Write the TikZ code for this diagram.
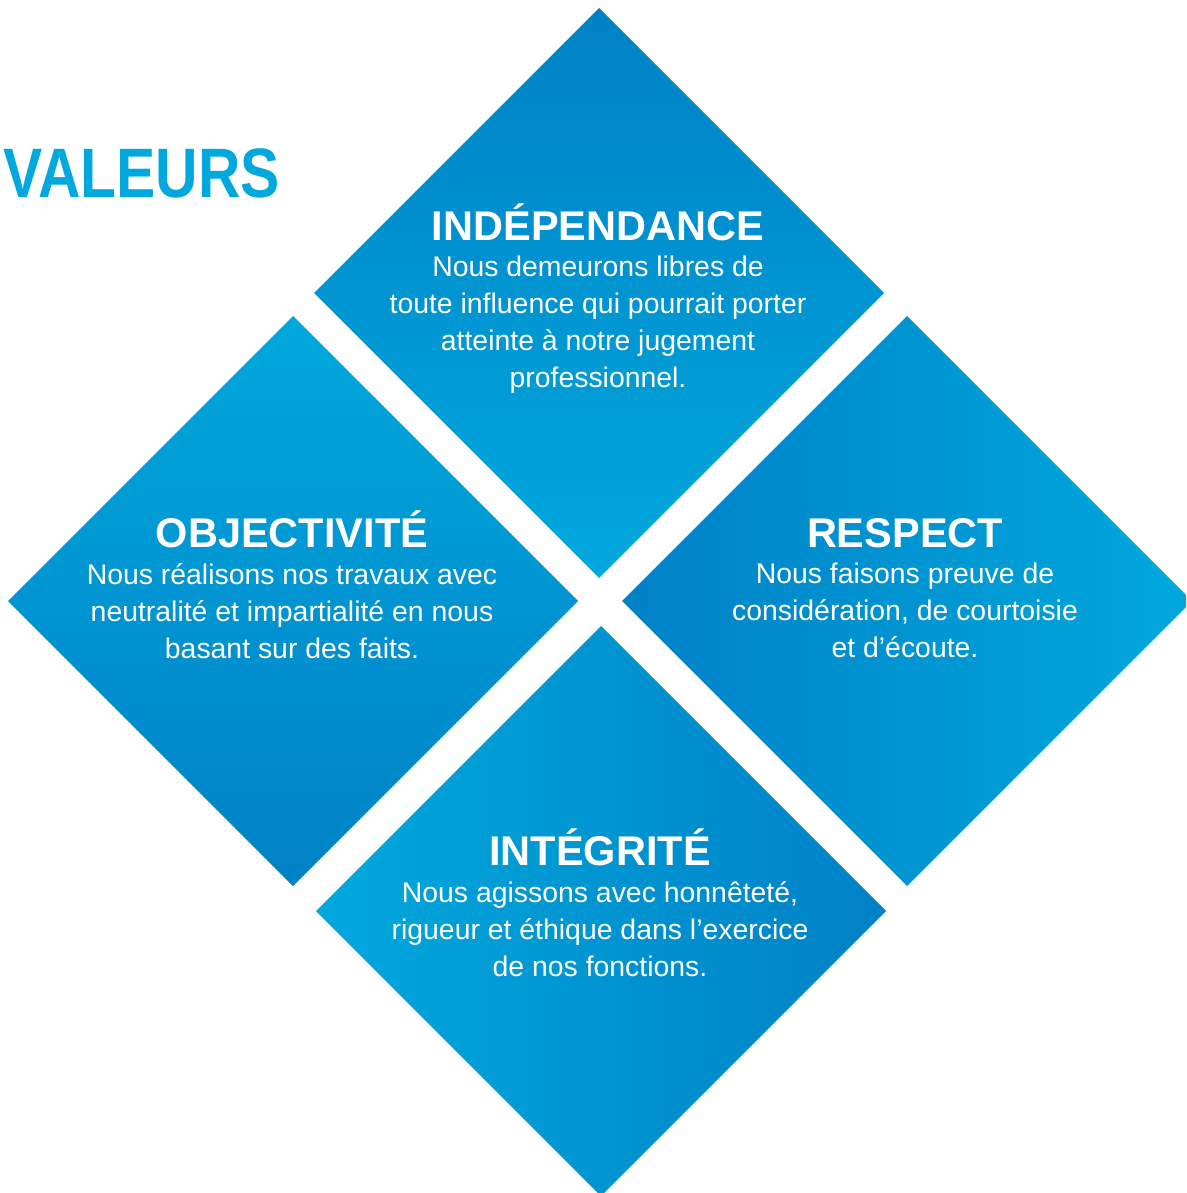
\documentclass[tikz,border=0pt]{standalone}
\usepackage{fontspec}
\setmainfont{Liberation Sans}
\newfontfamily\narrowfont{Liberation Sans}[FakeStretch=0.84]
\usetikzlibrary{positioning}
\definecolor{diamdark}{RGB}{0,129,198}
\definecolor{diamlight}{RGB}{0,168,221}
\begin{document}
\begin{tikzpicture}[x=1pt,y=-1pt,
    head/.style={text=white,inner sep=0pt,anchor=base,text height=29pt,text depth=0pt,
      font=\bfseries\fontsize{41.5}{41.5}\selectfont},
    body/.style={text=white,inner sep=0pt,align=center,
      font=\fontsize{28.4}{37}\selectfont}]
    \useasboundingbox (0,0) rectangle (1186,1193);
    \scope
    \clip (0,0) rectangle (1186,1193);
    \shade[top color=diamdark,bottom color=diamlight]
      (599,8) -- (884,293) -- (599,578) -- (314,293) -- cycle;
    \shade[top color=diamlight,bottom color=diamdark]
      (293,316) -- (578,601) -- (293,886) -- (8,601) -- cycle;
    \shade[left color=diamdark,right color=diamlight]
      (907,316) -- (1192,601) -- (907,886) -- (622,601) -- cycle;
    \shade[left color=diamlight,right color=diamdark]
      (601,626) -- (886,911) -- (601,1196) -- (316,911) -- cycle;
    \endscope
    \node[anchor=base west,inner sep=0pt,text=diamlight,
      font=\narrowfont\bfseries\fontsize{70}{70}\selectfont] (valeurs) at (3,197) {VALEURS};
    \node[head] (indep) at (598,240) {INDÉPENDANCE};
    \node[body,below=16pt of indep] (indeptext) {Nous demeurons libres de\\
      toute influence qui pourrait porter\\atteinte à notre jugement\\professionnel.};
    \node[head] (objec) at (292,547) {OBJECTIVITÉ};
    \node[body,below=16pt of objec] (objectext) {Nous réalisons nos travaux avec\\
      neutralité et impartialité en nous\\basant sur des faits.};
    \node[head] (resp) at (905,547) {RESPECT};
    \node[body,below=16pt of resp] (resptext) {Nous faisons preuve de\\
      considération, de courtoisie\\et d’écoute.};
    \node[head] (integ) at (600,865) {INTÉGRITÉ};
    \node[body,below=16pt of integ] (integtext) {Nous agissons avec honnêteté,\\
      rigueur et éthique dans l’exercice\\de nos fonctions.};
  \end{tikzpicture}
\end{document}
